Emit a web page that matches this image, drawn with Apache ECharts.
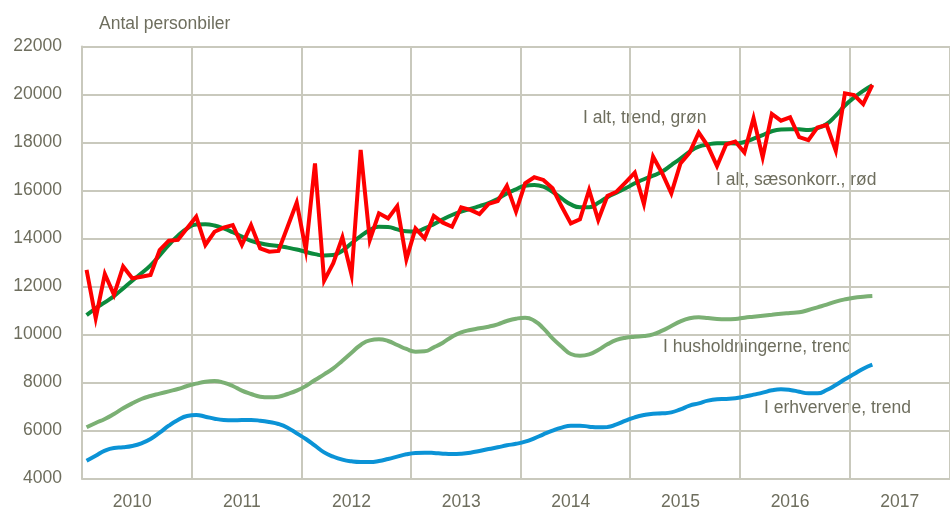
<!DOCTYPE html>
<html>
<head>
<meta charset="utf-8">
<script src="https://cdn.jsdelivr.net/npm/echarts@6/dist/echarts.min.js"></script>
<style>
  html, body { margin: 0; padding: 0; background: #fff; }
  #chart { width: 950px; height: 512px; }
</style>
</head>
<body>
<div id="chart"></div>
<script>
// år og måneder (jan 2010 - nov 2017, data til mar 2017)
var years = ['2010', '2011', '2012', '2013', '2014', '2015', '2016', '2017'];
var yTicks = [4000, 22000, 2000];

// I alt, sæsonkorrigeret (rød)
var iAltSaeson = [
    12690, 10680, 12520, 11650, 12830, 12340, 12410, 12480, 13520, 13910,
    13940, 14430, 14910, 13730, 14280, 14450, 14560, 13730, 14560, 13590,
    13450, 13480, 14490, 15500, 13520, 17130, 12240, 12970, 14050, 12480,
    17690, 13940, 15050, 14840, 15350, 13130, 14420, 14010, 14940, 14660,
    14490, 15300, 15190, 15020, 15440, 15560, 16190, 15120, 16300, 16550,
    16440, 16090, 15330, 14630, 14800, 16020, 14770, 15770, 15950, 16340,
    16740, 15440, 17410, 16720, 15880, 17130, 17580, 18410, 17850, 17020,
    17920, 18040, 17580, 19010, 17380, 19190, 18910, 19050, 18220, 18100,
    18630, 18730, 17660, 20050, 19980, 19600, 20400
];

// I alt, trend (grøn)
var iAltTrend = [
    10810, 11090, 11340, 11600, 11920, 12240, 12550, 12880, 13300, 13730,
    14120, 14420, 14580, 14590, 14540, 14420, 14260, 14080, 13900, 13800,
    13730, 13690, 13620, 13540, 13440, 13350, 13290, 13310, 13490, 13800,
    14100, 14350, 14490, 14480, 14380, 14300, 14290, 14420, 14600, 14800,
    14980, 15120, 15230, 15350, 15470, 15650, 15880, 16050, 16200, 16230,
    16160, 15950, 15670, 15420, 15300, 15300, 15490, 15720, 15910, 16090,
    16300, 16470, 16620, 16790, 17060, 17330, 17620, 17830, 17920, 17970,
    17970, 17960, 18020, 18160, 18310, 18470, 18540, 18550, 18550, 18520,
    18600, 18770, 19120, 19540, 19870, 20150, 20380
];

// I husholdningerne, trend
var husholdninger = [
    6133, 6313, 6479, 6688, 6924, 7132, 7313, 7438, 7535, 7632,
    7729, 7854, 7951, 8035, 8063, 7993, 7854, 7660, 7521, 7410,
    7382, 7410, 7521, 7660, 7854, 8104, 8340, 8590, 8910, 9243,
    9563, 9757, 9799, 9729, 9563, 9396, 9285, 9299, 9465, 9660,
    9910, 10090, 10188, 10257, 10326, 10424, 10563, 10660, 10701, 10576,
    10257, 9840, 9493, 9188, 9118, 9174, 9354, 9590, 9771, 9868,
    9910, 9938, 10007, 10160, 10354, 10549, 10674, 10715, 10688, 10646,
    10632, 10646, 10701, 10743, 10785, 10826, 10868, 10896, 10924, 11021,
    11132, 11243, 11368, 11465, 11535, 11576, 11604
];

// I erhvervene, trend
var erhverv = [
    4742, 4951, 5160, 5271, 5299, 5354, 5465, 5646, 5910, 6201,
    6438, 6604, 6646, 6576, 6493, 6438, 6424, 6438, 6438, 6410,
    6354, 6271, 6118, 5882, 5646, 5368, 5090, 4910, 4785, 4715,
    4688, 4688, 4729, 4813, 4910, 5007, 5063, 5076, 5063, 5035,
    5021, 5035, 5076, 5146, 5229, 5299, 5382, 5445, 5535, 5674,
    5840, 5993, 6118, 6201, 6201, 6160, 6132, 6146, 6257, 6410,
    6549, 6646, 6701, 6715, 6757, 6882, 7035, 7132, 7243, 7299,
    7313, 7340, 7410, 7493, 7576, 7674, 7715, 7688, 7618, 7549,
    7549, 7688, 7896, 8132, 8354, 8576, 8743
];

var months = [];
for (var y = 0; y < years.length; y++) {
    for (var m = 1; m <= 12; m++) {
        months.push(years[y] + '-' + (m < 10 ? '0' + m : m));
    }
}
months = months.slice(0, 95);

var font = "'Liberation Sans', Arial, sans-serif";
var fs = 17.5;
var txtColor = '#6e6e5e';
var gridColor = '#c9c9bd';

var myChart = echarts.init(document.getElementById('chart'));

function note(text, x, y) {
    return { type: 'text', left: x, top: y, style: { text: text, font: fs + 'px ' + font, fill: txtColor } };
}

var option = {
    animation: false,
    backgroundColor: '#fff',
    title: {
        text: 'Antal personbiler',
        left: 94,
        top: 10,
        textStyle: { fontFamily: font, fontSize: fs, fontWeight: 'normal', color: txtColor }
    },
    grid: { left: 82, right: 0, top: 46.5, bottom: 33.5, outerBoundsMode: 'none' },
    xAxis: {
        type: 'category',
        data: months,
        boundaryGap: true,
        axisLine: { show: true, lineStyle: { color: gridColor, width: 2 } },
        axisTick: { show: false },
        axisLabel: {
            interval: function (i) { return i % 12 === 5; },
            formatter: function (v) { return v.slice(0, 4); },
            fontFamily: font, fontSize: fs, color: txtColor, margin: 15
        },
        splitLine: {
            show: true,
            interval: function (i) { return i % 12 === 0; },
            lineStyle: { color: gridColor, width: 2 }
        }
    },
    yAxis: {
        type: 'value',
        min: yTicks[0],
        max: yTicks[1],
        interval: yTicks[2],
        axisLine: { show: true, lineStyle: { color: gridColor, width: 2 } },
        axisTick: { show: false },
        axisLabel: {
            formatter: function (v) { return String(v); },
            fontFamily: font, fontSize: fs, color: txtColor, margin: 20
        },
        splitLine: { lineStyle: { color: gridColor, width: 2 } }
    },
    graphic: [
        note('I alt, trend, grøn', 583, 109),
        note('I alt, sæsonkorr., rød', 716, 171),
        note('I husholdningerne, trend', 663, 338),
        note('I erhvervene, trend', 764, 399)
    ],
    series: [
        {
            name: 'I husholdningerne, trend', type: 'line', data: husholdninger,
            smooth: true, symbol: 'none',
            lineStyle: { color: '#7bb074', width: 4 }
        },
        {
            name: 'I erhvervene, trend', type: 'line', data: erhverv,
            smooth: true, symbol: 'none',
            lineStyle: { color: '#0b93d6', width: 4 }
        },
        {
            name: 'I alt, trend', type: 'line', data: iAltTrend,
            smooth: true, symbol: 'none',
            lineStyle: { color: '#0c8a3c', width: 4 }
        },
        {
            name: 'I alt, sæsonkorr.', type: 'line', data: iAltSaeson,
            symbol: 'none',
            lineStyle: { color: '#ff0000', width: 4, join: 'miter' }
        }
    ]
};
myChart.setOption(option);
</script>
</body>
</html>
